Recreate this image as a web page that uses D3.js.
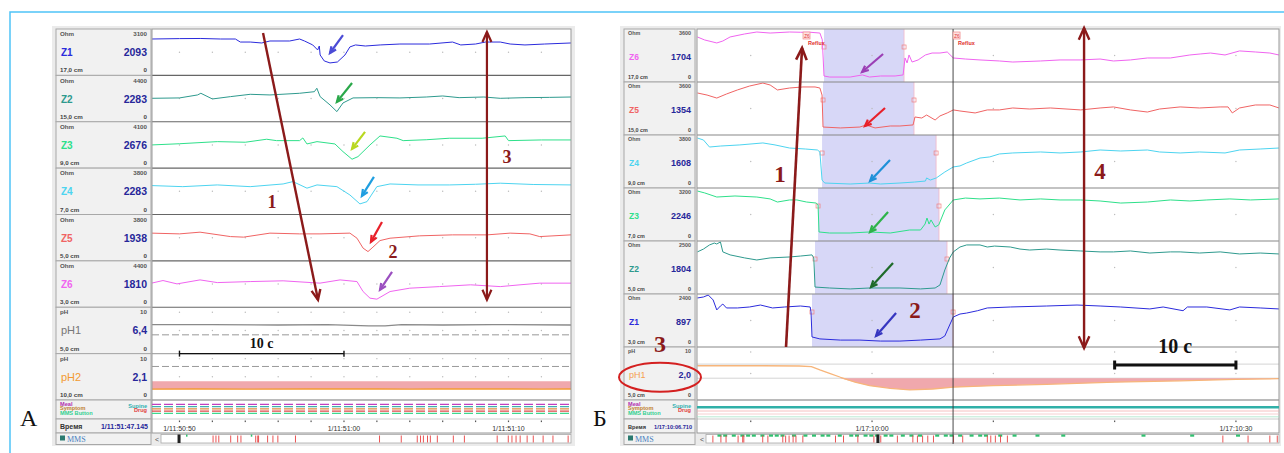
<!DOCTYPE html>
<html>
<head>
<meta charset="utf-8">
<script src="https://cdn.jsdelivr.net/npm/d3@7"></script>
<style>
  body { margin: 0; background: #fff; }
  svg { display: block; font-family: Arial, "Liberation Sans", sans-serif; }
</style>
</head>
<body>
<script>
// ---------- Панель А (время в секундах от 1/11:51:00, импеданс в Ом) ----------
const leftChannels = ["Z1", "Z2", "Z3", "Z4", "Z5", "Z6"];
const leftMax = [3100, 4400, 4100, 3800, 3800, 4400];
const leftNow = ["2093", "2283", "2676", "2283", "1938", "1810"];
const leftPos = ["17,0 cm", "15,0 cm", "9,0 cm", "7,0 cm", "5,0 cm", "3,0 cm"];

const leftZ1 = [[-11.7,2570],[-10,2600],[-8.7,2610],[-7.5,2570],[-6.6,2570],[-6.3,2340],[-5.7,2340],[-5,2270],[-4.5,2420],[-3.3,2420],[-2.7,2570],[-2.4,2420],[-1.9,2120],[-1.6,1740],[-1.5,2040],[-1.45,1360],[-1.2,910],[-0.85,760],[-0.4,830],[0.06,1360],[0.36,1970],[0.7,2120],[1.3,2040],[2.2,2120],[3.4,2190],[5.2,2190],[6.6,2340],[7.1,2120],[8,2190],[8.6,2340],[9.5,2340],[10.1,2190],[11,2120],[12.2,2190],[13.8,2270]];
const leftZ2 = [[-11.7,2260],[-10,2300],[-8.9,2620],[-8.7,2800],[-8,2190],[-6.9,2440],[-5.7,2690],[-4.5,2620],[-2.7,2800],[-1.8,2970],[-1.65,3340],[-1.45,2440],[-0.85,1550],[-0.43,830],[-0.06,1760],[0.55,2300],[2,2330],[3.4,2300],[5,2400],[6,2510],[7,2330],[8.5,2400],[9.5,2260],[11,2330],[12.5,2360],[13.8,2400]];
const leftZ3 = [[-11.7,2080],[-10,2200],[-7.7,2410],[-6,2350],[-4.7,2650],[-4.1,2510],[-2.7,2510],[-2.5,2780],[-2.25,2180],[-1.64,2410],[-0.55,2180],[-0.06,1410],[0.49,650],[0.85,910],[1.58,2080],[2.19,2980],[3.22,2750],[3.6,2510],[5,2600],[6.4,2750],[8.4,2750],[9.8,2980],[10,2510],[12,2580],[13.8,2580]];
const leftZ4 = [[-11.7,2460],[-9.8,2360],[-7.7,2520],[-5.7,2360],[-3.7,2610],[-3.1,2830],[-2.25,2220],[-1.64,2520],[-0.43,2360],[0.36,1590],[0.97,760],[1.4,970],[2,2360],[2.8,2610],[4.5,2520],[6.4,2520],[8,2580],[9.5,2680],[11.5,2560],[13.8,2520]];
const leftZ5 = [[-11.7,2350],[-10,2280],[-8.75,2440],[-6.9,2030],[-6.1,1980],[-4.5,2350],[-2.7,2280],[-1.46,2280],[0.36,2350],[0.79,1880],[1.16,960],[1.46,640],[1.76,1050],[2.19,1660],[2.8,1880],[4.6,2100],[6.6,2190],[8.7,2190],[10.1,2350],[11.3,2280],[11.9,2030],[13.8,2190]];
const leftZ6 = [[-11.7,2330],[-11,2610],[-10.15,2250],[-8.75,2680],[-7.7,2390],[-5.7,2500],[-3.7,2580],[-1.46,2330],[-0.24,2680],[0.79,2500],[1.16,1430],[1.58,720],[2,610],[2.8,1430],[4,1790],[5.8,1960],[7.7,2150],[9.5,1960],[10.7,2150],[11.9,2330],[13.8,2330]];

const leftPhNames = ["pH1", "pH2"];
const leftPhNow = ["6,4", "2,1"];
const leftPhPos = ["5,0 cm", "10,0 cm"];
const leftPh1 = [[-11.7,6.5],[-8,6.5],[-4,6.4],[-1,6.5],[1.5,6.2],[2.5,6.2],[3.5,6.5],[6,6.4],[9,6.5],[13.8,6.4]];
const leftPh2 = [[-11.7,2.05],[-9,2.1],[-6,2.05],[-2,2.1],[2,2.1],[4,2.05],[6,2.1],[10,2.1],[12,2.05],[13.8,2.1]];
const leftPhLines = [[4], [7.6]];

// маркеры Ом: [канал, t хвоста, Ом хвоста, t острия, Ом острия]
const leftPointers = [[0,-0.06,2870,-0.85,1510],[1,0.49,3900,-0.43,1870],[2,1.28,3380,0.49,1680],[3,1.82,3260,1.09,1500],[4,2.31,3390,1.64,1540],[5,2.92,3540,2.19,1610]];
const leftPointerColors = ["#4b4bd6", "#2aa84a", "#b8d820", "#1e9ee0", "#e8202a", "#9b4fc0"];

const leftTicks = [-10, -8, -6, -4, -2, 0, 2, 4, 6, 8, 10, 12];
const leftTimeLabelsAt = [-10, 0, 10];
const leftTimeLabels = ["1/11:50:50", "1/11:51:00", "1/11:51:10"];
const leftCursor = "1/11:51:47.145";
const leftMmsRed = [12.7,13.4,14.1,17.0,18.7,19.5,23.1,23.6,23.8,26.0,27.3,28.5,32.8,53.3,58.6,62.5,63.3,64.0,65.0,65.7,67.4,71.3,74.0,82.0,84.7,85.6,86.6,87.6,89.3,90.8,93.2,95.6,99.3];
const leftMmsGreen = [6.1, 21.9];
const leftMmsThumb = 4.4;

// ---------- Панель Б (время в секундах от 1/17:10:00) ----------
const rightChannels = ["Z6", "Z5", "Z4", "Z3", "Z2", "Z1"];
const rightMax = [3600, 3600, 3800, 3200, 2500, 2400];
const rightNow = ["1704", "1354", "1608", "2246", "1804", "897"];
const rightPos = ["17,0 cm", "15,0 cm", "9,0 cm", "7,0 cm", "5,0 cm", "3,0 cm"];

const rightZ6 = [[-14.4,3220],[-13.8,2990],[-12.8,2760],[-12.3,2910],[-11.7,3220],[-10.5,3450],[-9.5,3600],[-8.4,3520],[-6.8,3600],[-5.9,3580],[-5.1,3580],[-4.3,3520],[-4.1,3000],[-3.96,230],[-3.5,150],[-1.8,150],[-0.8,310],[-0.2,150],[0.7,230],[1.9,230],[2.56,310],[2.72,1610],[2.89,1230],[3.05,1840],[3.3,1300],[3.8,1460],[4.4,1840],[4.95,1990],[5.6,1990],[6.2,2070],[6.7,1610],[7.7,1530],[8.9,1460],[10.5,1380],[11.6,1300],[13.9,1380],[15.5,1460],[17.2,1460],[18.8,1530],[19.9,1380],[21.3,1460],[22.7,1610],[24.6,1610],[26.2,1840],[27.1,1920],[27.9,1990],[29.1,1840],[30.3,2150],[31.6,2070],[32.8,1990],[33.55,1840]];
const rightZ5 = [[-14.4,2990],[-13.6,2830],[-12.8,2600],[-12,2910],[-11.1,3220],[-10.1,3520],[-9,3750],[-8.4,3600],[-7.8,3220],[-6.8,3370],[-5.7,3450],[-4.7,3450],[-4.3,3370],[-4.12,2830],[-4.04,380],[-2.6,310],[-1,380],[-0.5,540],[0.25,310],[1.5,460],[2.3,460],[3.38,540],[3.54,1150],[4.1,1070],[4.5,1300],[5.2,920],[5.6,1230],[6.2,1460],[6.7,1690],[7.25,1610],[8.5,1460],[9.5,1690],[10.5,1690],[11.6,1840],[13,1760],[14.7,1840],[17.2,1690],[18.8,1840],[19.9,1920],[21.3,1690],[22.7,1530],[23.7,1760],[25.4,1920],[27,1840],[28.7,1920],[29.35,1920],[29.7,1460],[30.3,1840],[31.6,2070],[32.8,2070],[33.55,1840]];
const rightZ4 = [[-14.4,3800],[-13.9,3640],[-13.4,3070],[-12.5,3150],[-10.9,3240],[-9,3400],[-8,3240],[-6.8,2990],[-5.5,2910],[-4.5,2830],[-4.3,2670],[-4.12,400],[-3.9,160],[-1.8,80],[-0.2,160],[0.7,80],[2.3,160],[3.5,240],[4.4,320],[4.5,570],[4.8,400],[5.3,570],[6,1050],[6.7,1460],[7.25,1540],[7.8,1780],[8.9,2180],[9.7,2270],[10.5,2510],[11.6,2590],[13.9,2670],[15.5,2590],[17.2,2670],[18.8,2830],[20.5,2750],[22.7,2830],[23.7,2670],[25.4,2590],[27,2670],[29.1,2590],[30.3,2830],[32,2910],[33.55,2990]];
const rightZ3 = [[-14.4,3200],[-13.8,3070],[-12.8,2790],[-11.3,2860],[-9.5,2790],[-8.4,2660],[-7.8,2450],[-6.8,2590],[-6.2,2590],[-5.4,2450],[-4.6,2380],[-4.45,2250],[-4.37,410],[-3.5,340],[-1.8,340],[-0.2,410],[1.5,340],[3.1,545],[4,545],[4.37,950],[4.53,1360],[4.7,950],[4.86,1230],[5.2,750],[5.5,890],[6,1910],[6.7,2590],[7.7,2720],[8.9,2660],[10.5,2720],[12.2,2590],[13.9,2660],[15.5,2590],[17.2,2590],[18.8,2520],[20.5,2380],[22.7,2450],[24.6,2590],[26.2,2520],[27.6,2590],[29.5,2660],[31.2,2590],[33.55,2660]];
const rightZ2 = [[-14.4,2080],[-13.9,2230],[-13.4,2450],[-13,2550],[-12.8,2500],[-12.5,2610],[-12.3,2080],[-11.7,1920],[-10.5,1760],[-9.5,1650],[-8.4,1760],[-6.8,1810],[-5.9,1860],[-4.95,1920],[-4.8,1760],[-4.7,210],[-3.5,160],[-1.8,110],[-0.2,160],[2.3,160],[4,110],[5.2,160],[5.6,320],[6,1120],[6.4,1760],[6.7,2080],[7.25,2340],[7.8,2450],[8.9,2450],[9.5,2340],[10.1,2390],[11.4,2340],[12.2,2230],[13,2180],[14.4,2230],[15.5,2180],[17.2,2130],[18.8,2080],[19.9,2080],[21.3,2130],[22.9,2020],[24.6,2080],[25.4,2080],[27,2020],[28.7,2080],[30.3,1970],[32,2020],[33.55,1970]];
const rightZ1 = [[-14.4,2350],[-13.9,2400],[-13.5,2500],[-13.1,2250],[-12.8,1740],[-12.5,1940],[-12.3,2040],[-12,1840],[-11.1,1840],[-10.1,1890],[-9.2,1990],[-8.2,1840],[-7.2,1890],[-5.9,1940],[-5.1,1890],[-5.03,1640],[-4.95,360],[-4.3,260],[-2.6,200],[-1,200],[0.7,150],[2.3,150],[4,200],[5.6,260],[6,410],[6.4,970],[6.7,1380],[7.25,1530],[7.8,1580],[8.7,1700],[9.5,1840],[11.4,1890],[14.4,1940],[16.9,1990],[18.8,1940],[20.5,1890],[22.9,1790],[24,1890],[25.64,1700],[26,1890],[27.6,1890],[29.5,1740],[30.3,1890],[32,1840],[33.55,1790]];

// эпизод рефлюкса в каждом канале: [начало, конец], с
const rightReflux = [[-3.96,2.64],[-4.04,3.46],[-4.12,5.28],[-4.45,5.52],[-4.7,6.18],[-4.95,6.68]];
const rightRefluxTags = [-5.69, 6.68];

const rightPhNow = "2,0";
const rightPh1 = [[-14.4,6.65],[-9,6.65],[-6,6.6],[-5,6.45],[-4.3,5.75],[-3.5,5.05],[-2.6,4.2],[-1.4,3.15],[-0.2,2.4],[1.5,1.85],[3.1,1.5],[5,1.7],[6.7,2.1],[10,2.4],[14.4,2.7],[20,3.15],[25.4,3.45],[30,3.75],[33.55,3.9]];
const rightPhLines = [7, 4];

const rightPointers = [[0,0.91,1915,-0.82,536],[1,1.07,1838,-0.58,460],[2,1.48,2023,-0.16,324],[3,1.32,1771,-0.16,409],[4,1.73,1490,-0.08,213],[5,1.98,1584,0.33,409]];
const rightPointerColors = ["#9b3fb5", "#e8202a", "#1e90d8", "#2db34a", "#1e6b2a", "#3535c0"];

const rightTicks = [-10, 0, 10, 20, 30];
const rightTimeLabelsAt = [0, 30];
const rightTimeLabels = ["1/17:10:00", "1/17:10:30"];
const rightCursorT = 6.68;
const rightCursor = "1/17:10:06.710";
const rightMmsRed = [1.2,2.6,3.5,5.6,6.4,6.6,9.9,10.8,13.4,13.9,14.5,15.2,15.7,16.9,22.6,24.0,26.5,29.3,30.5,33.4,36.1,36.9,37.8,38.7,39.7,43.2,44.8,49.1,49.7,50.5,51.4,52.6,90.2,94.6,98.4,99.7];
const rightMmsGreen = [2,3,4.5,6,7,8,9.5,11,12,13,15,17,18.5,20,21,23,25,26,27.5,28.5,29.5,31,32,34,35.5,37,40,41.5,42.5,44,46,47.5,48.5,51,53.5,57.5,62,76,84.5,92.5];
const rightMmsThumb = 30.0;

const zColors = { Z1: "#2b2bdc", Z2: "#2e9a8e", Z3: "#2ee08a", Z4: "#4dd4f0", Z5: "#f06464", Z6: "#f064f0" };
const MAROON = "#8b1a1a";
const SERIF = "'Times New Roman', 'Liberation Serif', serif";

const svg = d3.select("body").append("svg").attr("width", 1284).attr("height", 453);

svg.append("rect").attr("x", 10).attr("y", 12).attr("width", 1290).attr("height", 460)
  .attr("fill", "none").attr("stroke", "#4fc3f7").attr("stroke-width", 1.5);

function arrow(g, a, b, color, w, head, both) {
  g.append("line").attr("x1", a[0]).attr("y1", a[1]).attr("x2", b[0]).attr("y2", b[1])
    .attr("stroke", color).attr("stroke-width", w);
  const tip = (p, q) => {
    const ang = Math.atan2(q[1] - p[1], q[0] - p[0]), s = 0.42;
    g.append("path")
      .attr("d", `M${q[0] - head * Math.cos(ang - s)},${q[1] - head * Math.sin(ang - s)}L${q[0]},${q[1]}L${q[0] - head * Math.cos(ang + s)},${q[1] - head * Math.sin(ang + s)}`)
      .attr("fill", "none").attr("stroke", color).attr("stroke-width", w).attr("stroke-linejoin", "miter");
  };
  tip(a, b);
  if (both) tip(b, a);
}

function drawPanel(c) {
  const g = svg.append("g");
  const x = d3.scaleLinear().domain(c.tDomain).range([c.plotX0, c.plotX1]);
  const row = d3.scaleLinear().domain([0, c.rows.length]).range([29, 400]);
  const rowH = row(1) - row(0);
  const yOf = (i, max) => d3.scaleLinear().domain([0, max]).range([row(i) + rowH - c.padB, row(i) + c.padT]);
  const lw = c.labelX1 - c.labelX0;

  g.append("rect").attr("x", c.x0).attr("y", 26).attr("width", c.x1 - c.x0).attr("height", 420).attr("fill", "#ebebeb");
  g.append("rect").attr("x", c.plotX0).attr("y", 29).attr("width", c.plotX1 - c.plotX0).attr("height", 404).attr("fill", "#fff");

  const clipId = "clip" + c.id;
  svg.append("clipPath").attr("id", clipId).append("rect")
    .attr("x", c.plotX0).attr("y", 29).attr("width", c.plotX1 - c.plotX0).attr("height", 371);

  // ячейки подписей
  const cells = [];
  c.rows.forEach((r, i) => cells.push([row(i), rowH]));
  cells.push([400, 19], [419, 14], [433, 11.5]);
  cells.forEach(([y0, h]) => g.append("rect").attr("x", c.labelX0).attr("y", y0).attr("width", lw).attr("height", h)
    .attr("fill", "#f1f1f1").attr("stroke", "#a8a8a8").attr("stroke-width", 1));

  c.rows.forEach((r, i) => {
    const t = row(i);
    const small = (txt, xx, yy, anchor, col) => g.append("text").attr("x", xx).attr("y", yy).attr("text-anchor", anchor)
      .attr("font-size", c.fs).attr("fill", col || "#333").attr("font-weight", "bold").text(txt);
    small(r.unit, c.labelX0 + 4, t + c.fs + 1, "start", "#555");
    small(r.max, c.labelX1 - 4, t + c.fs + 1, "end", "#555");
    small(r.pos, c.labelX0 + 4, t + rowH - 3, "start", "#444");
    small("0", c.labelX1 - 4, t + rowH - 3, "end", "#444");
    g.append("text").attr("x", c.labelX0 + 5).attr("y", t + rowH / 2 + 4)
      .attr("font-size", r.kind === "ph" ? c.phFs : c.nameFs).attr("font-weight", r.kind === "ph" ? "normal" : "bold")
      .attr("fill", r.nameColor).text(r.name);
    g.append("text").attr("x", c.labelX1 - 4).attr("y", t + rowH / 2 + 4).attr("text-anchor", "end")
      .attr("font-size", c.valFs).attr("font-weight", "bold").attr("fill", "#27279a").text(r.now);
  });

  // подписи событий
  const ev = [["Meal", "#b030b0", 405.5, "start"], ["Symptom", "#c08030", 410.3, "start"], ["MMS Button", "#30d090", 415.2, "start"],
              ["Supine", "#30b0b0", 407.5, "end"], ["Drug", "#e04040", 412, "end"]];
  ev.forEach(([txt, col, yy, anc]) => g.append("text").attr("x", anc === "start" ? c.labelX0 + 4 : c.labelX1 - 4).attr("y", yy)
    .attr("text-anchor", anc).attr("font-size", 5.6).attr("font-weight", "bold").attr("fill", col).text(txt));
  g.append("text").attr("x", c.labelX0 + 4).attr("y", 429).attr("font-size", c.timeFs).attr("font-weight", "bold").attr("fill", "#333").text("Время");
  g.append("text").attr("x", c.labelX1 - 3).attr("y", 429).attr("text-anchor", "end").attr("font-size", c.timeFs)
    .attr("font-weight", "bold").attr("fill", "#27279a").text(c.cursorText);
  g.append("rect").attr("x", c.labelX0 + 4).attr("y", 435.5).attr("width", 5).attr("height", 5).attr("fill", "#2a7a70");
  g.append("text").attr("x", c.labelX0 + 11).attr("y", 441.5).attr("font-size", 8).attr("font-family", SERIF).attr("fill", "#4a7fc0").text("MMS");

  // заливка эпизодов рефлюкса
  const plot = g.append("g").attr("clip-path", `url(#${clipId})`);
  if (c.reflux) {
    c.reflux.forEach(([a, b], i) => {
      plot.append("rect").attr("x", x(a)).attr("y", row(i)).attr("width", x(b) - x(a)).attr("height", rowH).attr("fill", "#d7d7f7");
      plot.append("line").attr("x1", x(b)).attr("x2", x(b)).attr("y1", row(i)).attr("y2", row(i + 1)).attr("stroke", "#f2b8c8").attr("stroke-width", 0.8);
      [a, b].forEach(tt => plot.append("rect").attr("x", x(tt) - 2).attr("y", row(i) + 16).attr("width", 4).attr("height", 4)
        .attr("fill", "none").attr("stroke", "#f08080").attr("stroke-width", 0.7));
    });
  }

  // точки сетки
  c.rows.forEach((r, i) => {
    const ys = r.kind === "ph" ? [row(i) + 5, row(i) + rowH / 2] : [row(i) + rowH / 2];
    ys.forEach(yy => c.ticks.forEach(tt => plot.append("circle").attr("cx", x(tt)).attr("cy", yy).attr("r", 0.7).attr("fill", "#bbb")));
  });

  // кривые
  c.rows.forEach((r, i) => {
    const y = yOf(i, r.kind === "ph" ? 10 : +r.max);
    const line = d3.line().x(d => x(d[0])).y(d => y(d[1]));
    if (r.kind === "ph") {
      r.lines.forEach(v => plot.append("line").attr("x1", c.plotX0).attr("x2", c.plotX1).attr("y1", y(v)).attr("y2", y(v))
        .attr("stroke", c.phLineColor).attr("stroke-width", 1).attr("stroke-dasharray", c.phLineDash));
      const area = d3.area().x(d => x(d[0])).y0(y(4)).y1(d => y(Math.min(4, d[1])));
      plot.append("path").datum(r.data).attr("d", area).attr("fill", "#ee9ea4").attr("opacity", 0.9);
    }
    plot.append("path").datum(r.data).attr("d", line).attr("fill", "none")
      .attr("stroke", r.color).attr("stroke-width", r.kind === "ph" ? 1.3 : 1).attr("stroke-linejoin", "round");
  });

  // разделители строк
  c.rows.forEach((r, i) => {
    if (i === 0) return;
    g.append("line").attr("x1", c.plotX0).attr("x2", c.plotX1).attr("y1", row(i)).attr("y2", row(i))
      .attr("stroke", c.dividerColors[i - 1]).attr("stroke-width", 1.2);
  });
  g.append("line").attr("x1", c.plotX0).attr("x2", c.plotX1).attr("y1", 400).attr("y2", 400).attr("stroke", "#777").attr("stroke-width", 1.2);
  g.append("line").attr("x1", c.plotX0).attr("x2", c.plotX1).attr("y1", 419).attr("y2", 419).attr("stroke", "#ccc").attr("stroke-width", 1);
  g.append("rect").attr("x", c.plotX0).attr("y", 29).attr("width", c.plotX1 - c.plotX0).attr("height", 404)
    .attr("fill", "none").attr("stroke", "#999").attr("stroke-width", 1);

  // строка событий
  c.events.forEach(e => g.append("line").attr("x1", c.plotX0).attr("x2", c.plotX1).attr("y1", e.y).attr("y2", e.y)
    .attr("stroke", e.color).attr("stroke-width", e.w).attr("stroke-dasharray", e.dash || null));

  // ось времени
  c.ticks.forEach(tt => g.append("rect").attr("x", x(tt) - 0.6).attr("y", 420.5).attr("width", 1.2).attr("height", 1.6).attr("fill", "#555"));
  c.labelsAt.forEach((tt, k) => g.append("text").attr("x", x(tt)).attr("y", 431).attr("text-anchor", "middle")
    .attr("font-size", 7).attr("fill", "#333").text(c.labels[k]));

  // полоса MMS
  const s = d3.scaleLinear().domain([0, 100]).range([c.plotX0 + 9, c.plotX1]);
  g.append("text").attr("x", c.plotX0 + 3).attr("y", 442).attr("font-size", 7).attr("fill", "#555").text("<");
  g.append("rect").attr("x", s(0)).attr("y", 434.5).attr("width", s(100) - s(0)).attr("height", 8.5)
    .attr("fill", "#fff").attr("stroke", "#aaa").attr("stroke-width", 0.8);
  c.mmsGreen.forEach(p => g.append("rect").attr("x", s(p)).attr("y", 434.5).attr("width", c.greenW).attr("height", 2.2).attr("fill", "#30c070"));
  c.mmsRed.forEach(p => g.append("line").attr("x1", s(p)).attr("x2", s(p)).attr("y1", 435.5).attr("y2", 442.5).attr("stroke", "#e84040").attr("stroke-width", 0.9));
  g.append("rect").attr("x", s(c.mmsThumb) - 1.5).attr("y", 434.5).attr("width", 3).attr("height", 8.5).attr("fill", "#222");

  // курсор
  if (c.cursorT !== undefined) {
    g.append("line").attr("x1", x(c.cursorT)).attr("x2", x(c.cursorT)).attr("y1", 29).attr("y2", 444)
      .attr("stroke", "#333").attr("stroke-width", 0.9);
  }
  if (c.refluxTags) {
    c.refluxTags.forEach(tt => {
      g.append("rect").attr("x", x(tt)).attr("y", 32).attr("width", 7).attr("height", 7).attr("fill", "#fde2e2").attr("stroke", "#f08a8a").attr("stroke-width", 0.7);
      g.append("text").attr("x", x(tt) + 1.2).attr("y", 37.5).attr("font-size", 4.5).attr("fill", "#e03030").text("Z6");
      g.append("text").attr("x", x(tt) + 5).attr("y", 45).attr("font-size", 5.5).attr("font-weight", "bold").attr("fill", "#e03030").text("Reflux");
    });
  }

  // цветные стрелки
  c.pointers.forEach((p, k) => {
    const y = yOf(p[0], +c.rows[p[0]].max);
    arrow(g, [x(p[1]), y(p[2])], [x(p[3]), y(p[4])], c.pointerColors[k], 2.2, 7, false);
  });

  return { g, x, row };
}

// ---------- сборка строк ----------
const leftTraces = [leftZ1, leftZ2, leftZ3, leftZ4, leftZ5, leftZ6];
const leftRows = leftChannels.map((n, i) => ({ kind: "z", unit: "Ohm", name: n, max: String(leftMax[i]), now: leftNow[i], pos: leftPos[i],
  nameColor: zColors[n], color: zColors[n], data: leftTraces[i] }));
const leftPhData = [leftPh1, leftPh2];
leftPhNames.forEach((n, i) => leftRows.push({ kind: "ph", unit: "pH", name: n, max: "10", now: leftPhNow[i], pos: leftPhPos[i],
  nameColor: i === 0 ? "#777" : "#f39a30", color: i === 0 ? "#8a8a8a" : "#f39a30", data: leftPhData[i], lines: leftPhLines[i] }));

const rightTraces = [rightZ6, rightZ5, rightZ4, rightZ3, rightZ2, rightZ1];
const rightRows = rightChannels.map((n, i) => ({ kind: "z", unit: "Ohm", name: n, max: String(rightMax[i]), now: rightNow[i], pos: rightPos[i],
  nameColor: zColors[n], color: zColors[n], data: rightTraces[i] }));
rightRows.push({ kind: "ph", unit: "pH", name: "pH1", max: "10", now: rightPhNow, pos: "5,0 cm",
  nameColor: "#f5a050", color: "#f7b57a", data: rightPh1, lines: rightPhLines });

const L = drawPanel({
  id: "L", x0: 52, x1: 575, labelX0: 56, labelX1: 151, plotX0: 152, plotX1: 571, padT: 3, padB: 2.4,
  tDomain: [-11.67, 13.8], rows: leftRows, fs: 6.2, nameFs: 10, phFs: 11, valFs: 10.5, timeFs: 7,
  dividerColors: ["#666", "#666", "#666", "#666", "#666", "#666", "#aaa"],
  phLineColor: "#999", phLineDash: "7,3",
  events: [{ y: 404.3, color: "#c040c0", w: 1.3, dash: "9,3" }, { y: 406.6, color: "#40b0b0", w: 1.3, dash: "9,3" },
           { y: 408.9, color: "#e08a40", w: 1.3, dash: "9,3" }, { y: 411.2, color: "#e04848", w: 1.3, dash: "9,3" },
           { y: 413.4, color: "#40d890", w: 1.3, dash: "9,3" }],
  ticks: leftTicks, labelsAt: leftTimeLabelsAt, labels: leftTimeLabels, cursorText: leftCursor,
  mmsRed: leftMmsRed, mmsGreen: leftMmsGreen, mmsThumb: leftMmsThumb, greenW: 1.5,
  pointers: leftPointers, pointerColors: leftPointerColors
});

const R = drawPanel({
  id: "R", x0: 620, x1: 1281, labelX0: 624, labelX1: 695, plotX0: 697, plotX1: 1279, padT: 3, padB: 3,
  tDomain: [-14.43, 33.55], rows: rightRows, fs: 5.4, nameFs: 8.5, phFs: 9, valFs: 9, timeFs: 5.6,
  dividerColors: ["#888", "#888", "#888", "#888", "#888", "#888"],
  phLineColor: "#d4d4d4", phLineDash: null,
  events: [{ y: 407.3, color: "#30b0a8", w: 2.6 }, { y: 411, color: "#f4b0b0", w: 0.8 },
           { y: 414, color: "#f4c4c4", w: 0.8 }, { y: 416.8, color: "#a8e4c8", w: 0.8 }],
  ticks: rightTicks, labelsAt: rightTimeLabelsAt, labels: rightTimeLabels, cursorText: rightCursor, cursorT: rightCursorT,
  mmsRed: rightMmsRed, mmsGreen: rightMmsGreen, mmsThumb: rightMmsThumb, greenW: 4,
  reflux: rightReflux, refluxTags: rightRefluxTags,
  pointers: rightPointers, pointerColors: rightPointerColors
});

// ---------- аннотации ----------
function num(p, t, r, txt, size) {
  p.g.append("text").attr("x", p.x(t)).attr("y", p.row(r)).attr("text-anchor", "middle")
    .attr("font-family", SERIF).attr("font-weight", "bold").attr("font-size", size).attr("fill", MAROON).text(txt);
}
function scaleBar(p, t0, t1, r, rText, w, tick, size) {
  const y = p.row(r);
  p.g.append("line").attr("x1", p.x(t0)).attr("x2", p.x(t1)).attr("y1", y).attr("y2", y).attr("stroke", "#111").attr("stroke-width", w);
  [t0, t1].forEach(t => p.g.append("line").attr("x1", p.x(t)).attr("x2", p.x(t)).attr("y1", y - tick).attr("y2", y + tick)
    .attr("stroke", "#111").attr("stroke-width", w));
  const mid = (p.x(t0) + p.x(t1)) / 2;
  p.g.append("text").attr("x", mid).attr("y", p.row(rText)).attr("text-anchor", "middle").attr("font-family", SERIF)
    .attr("font-weight", "bold").attr("font-size", size).attr("fill", "#111").text("10 с");
}

// панель А
arrow(L.g, [L.x(-4.92), L.row(0.086)], [L.x(-1.58), L.row(5.84)], MAROON, 2.4, 11, false);
arrow(L.g, [L.x(8.69), L.row(5.84)], [L.x(8.69), L.row(0.065)], MAROON, 2.2, 11, true);
num(L, -4.38, 3.86, "1", 18);
num(L, 2.98, 4.94, "2", 18);
num(L, 9.91, 2.89, "3", 18);
scaleBar(L, -10, 0, 7.0, 6.88, 1.4, 3, 14);

// панель Б
arrow(R.g, [R.x(-7.09), R.row(6.0)], [R.x(-5.77), R.row(0.358)], MAROON, 2.6, 13, false);
arrow(R.g, [R.x(17.48), R.row(6.02)], [R.x(17.48), R.row(-0.019)], MAROON, 2.4, 13, true);
num(R, -7.58, 2.89, "1", 23);
num(R, 18.8, 2.83, "4", 23);
num(R, 3.54, 5.45, "2", 23);
num(R, -17.48, 6.09, "3", 24);
R.g.append("ellipse").attr("cx", R.x(-17.48)).attr("cy", R.row(6.57)).attr("rx", 41).attr("ry", 14.5)
  .attr("fill", "none").attr("stroke", "#d42020").attr("stroke-width", 2);
scaleBar(R, 20, 30, 6.34, 6.11, 3, 4.5, 20);

svg.append("text").attr("x", 20).attr("y", 426).attr("font-family", SERIF).attr("font-size", 24).attr("fill", "#111").text("А");
svg.append("text").attr("x", 593).attr("y", 426).attr("font-family", SERIF).attr("font-size", 24).attr("fill", "#111").text("Б");
</script>
</body>
</html>
